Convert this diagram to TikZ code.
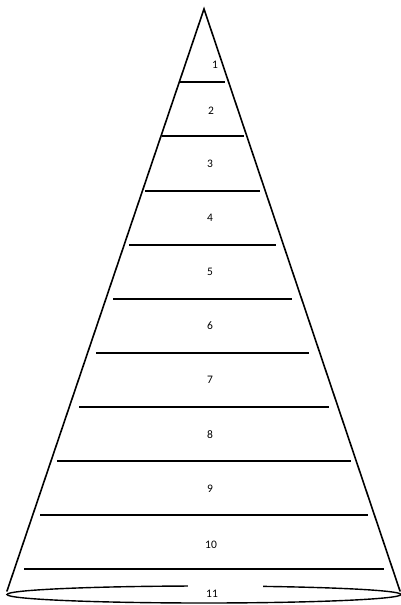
\documentclass[tikz,border=0pt]{standalone}
\usepackage{fontspec}
\setsansfont{Carlito}
\usepackage{tikz}
\usetikzlibrary{positioning}
\definecolor{ink}{HTML}{000000}
\tikzset{
  side/.style ={draw=ink,line width=1.6pt,line cap=round},
  rung/.style ={draw=ink,line width=1.6pt},
  tier/.style ={inner sep=1pt,font=\sffamily\fontsize{11.5}{13}\selectfont},
  rim/.style  ={draw=ink,line width=1.4pt}
}
\begin{document}
\begin{tikzpicture}[x=1pt,y=-1pt]
        \useasboundingbox (0,0) rectangle (400,605);
        \coordinate (apex) at (204,9);
        \coordinate (bl) at (7,591);
        \coordinate (br) at (400,591);
        \draw[rim] (204,594.5) ellipse [x radius=197, y radius=8.5];
        \draw[side] (bl) -- (apex) -- (br);
        \foreach \y/\xa/\xb in {82/180/225,136/162/244,191/145/260,245/129/276,
                                299/113/292,353/96/309,407/79/329,461/57/351,
                                515/40/368,569/24/384}
          \draw[rung] (\xa,\y) -- (\xb,\y);
        \node[tier] (t1) at (215,65) {1};
        \node[tier] (t2) at (211,111) {2};
        \node[tier] (t3) at (210,164) {3};
        \node[tier] (t4) at (210,218) {4};
        \node[tier] (t5) at (210,272) {5};
        \node[tier] (t6) at (210,326) {6};
        \node[tier] (t7) at (210,380) {7};
        \node[tier] (t8) at (210,435) {8};
        \node[tier] (t9) at (210,489) {9};
        \node[tier] (t10) at (211,545) {10};
        \node[tier,anchor=base west,fill=white,inner sep=0pt,text width=75pt,
              text height=12pt,text depth=2pt,align=left] (t11) at (188,597)
          {\hspace{18pt}11};
      \end{tikzpicture}
\end{document}
